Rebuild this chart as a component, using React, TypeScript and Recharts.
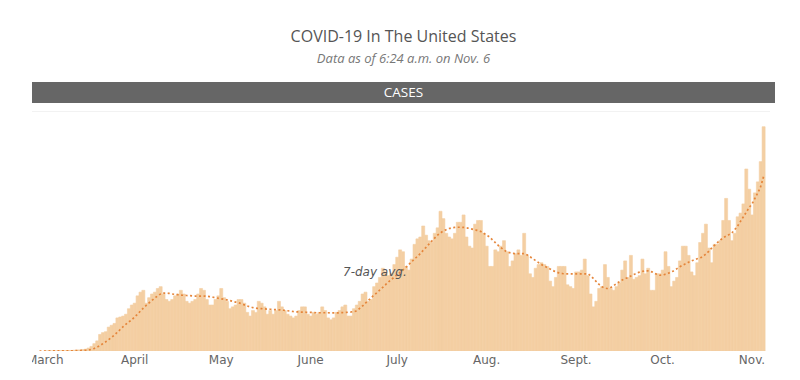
import React from 'react';
import { ComposedChart, Bar, Line, XAxis, YAxis } from 'recharts';

// Daily new cases (thousands), Feb 28 – Nov 5
const febCases = [0, 0];
const marCases = [0.02, 0.03, 0.04, 0.05, 0.07, 0.1, 0.12, 0.14, 0.2, 0.3, 0.4, 0.5, 0.6, 0.8, 1, 1.6, 2.5, 4, 5.5, 9, 10, 10.5, 13, 14, 15, 18, 18.5, 19, 20, 23, 25];
const aprCases = [26, 30, 32, 33, 26, 29, 31, 32, 34, 35, 31, 28, 27, 28, 30, 31, 33, 31, 27, 26, 27, 28, 31, 34, 33, 28, 25, 25, 28, 30];
const mayCases = [34, 29, 27, 23, 24, 25, 28, 28, 26, 21, 19, 22, 21, 27, 26, 24, 20, 22, 20, 22, 27, 24, 22, 20, 19, 18, 19, 22, 24, 24, 20];
const junCases = [19, 21, 20, 21, 24, 22, 18, 17, 18, 21, 22, 24, 25, 19, 19, 23, 25, 27, 31, 32, 27, 28, 35, 37, 40, 45, 43, 41, 42, 47];
const julCases = [51, 55, 54, 46, 44, 50, 58, 61, 62, 68, 63, 60, 59, 64, 67, 76, 72, 64, 62, 61, 64, 70, 70, 74, 62, 57, 56, 69, 71, 71, 64];
const augCases = [57, 46, 46, 55, 54, 57, 60, 54, 46, 49, 53, 55, 52, 64, 52, 42, 40, 45, 47, 48, 47, 46, 38, 35, 40, 46, 46, 46, 36, 35, 34];
const sepCases = [43, 43, 44, 50, 41, 31, 24, 27, 34, 35, 47, 40, 34, 33, 35, 37, 44, 49, 40, 52, 39, 40, 41, 50, 42, 45, 33, 33, 42, 42];
const octCases = [44, 54, 46, 35, 38, 40, 49, 57, 57, 52, 43, 41, 48, 59, 64, 69, 56, 48, 58, 58, 60, 71, 83, 71, 60, 64, 73, 75, 80, 99, 88];
const novCases = [74, 86, 92, 103, 122];

// 7-day average (thousands)
const febAvg = [0, 0];
const marAvg = [0.01, 0.01, 0.02, 0.02, 0.03, 0.04, 0.05, 0.07, 0.09, 0.12, 0.16, 0.2, 0.26, 0.33, 0.42, 0.6, 0.9, 1.4, 2.1, 3, 4, 5, 6.2, 7.4, 8.7, 10.2, 11.7, 13.2, 14.6, 15.8, 17];
const aprAvg = [18.5, 20, 21.7, 23.3, 24.8, 26.2, 27.5, 28.8, 30, 31, 31.5, 31.5, 31.3, 31, 30.8, 30.6, 30.4, 30.3, 30.2, 30.1, 30, 29.9, 29.9, 29.9, 29.9, 29.8, 29.6, 29.3, 29, 28.7];
const mayAvg = [28.4, 28.1, 27.8, 27.4, 27, 26.6, 26.2, 25.7, 25.1, 24.5, 24, 23.6, 23.3, 23.1, 23, 22.9, 22.8, 22.7, 22.6, 22.5, 22.4, 22.3, 22.1, 21.9, 21.7, 21.5, 21.3, 21.2, 21.1, 21.1, 21];
const junAvg = [21, 20.9, 20.8, 20.8, 20.8, 20.8, 20.8, 20.7, 20.7, 20.7, 20.8, 20.9, 21, 21.1, 21.2, 21.4, 22, 23.2, 24.5, 26, 27.5, 29, 30.4, 31.8, 33.2, 34.6, 36.1, 37.6, 38.9, 40.2];
const julAvg = [41.5, 42.8, 44, 45.5, 47, 48.5, 50, 51.5, 53, 54.7, 56.4, 58.1, 59.8, 61.4, 63, 64.2, 65.2, 66, 66.6, 67, 67.2, 67.3, 67.3, 67.2, 67, 66.7, 66.3, 65.9, 65.5, 65, 64];
const augAvg = [63, 62, 60.5, 59, 57.5, 56.2, 55, 54, 53.5, 53.2, 53, 53, 53, 53, 52.3, 51.3, 50.2, 49.2, 48.1, 47, 46.2, 45.4, 44.6, 43.8, 43.1, 42.5, 42.2, 42, 42, 42, 42];
const sepAvg = [42, 42, 42, 42, 42, 41, 39.5, 37.8, 36.2, 35, 34.3, 34, 34.5, 35.5, 36.6, 37.7, 38.6, 39.3, 40, 40.8, 41.6, 42.3, 42.9, 43.3, 43.6, 43.6, 43.2, 42.5, 41.7, 41.2];
const octAvg = [41.3, 41.8, 42.3, 43, 43.8, 44.8, 45.8, 46.7, 47.5, 48.3, 49, 49.6, 50.2, 50.7, 51.5, 52.8, 54.2, 56, 57.5, 59, 60.3, 61.5, 62.5, 63.3, 64.2, 66, 68, 70.5, 73, 75.5, 78];
const novAvg = [80, 83, 86, 89.5, 95];

const MONTH_KEYS = ['feb', 'mar', 'apr', 'may', 'jun', 'jul', 'aug', 'sep', 'oct', 'nov'];
const MONTH_START_DAY = [28, 1, 1, 1, 1, 1, 1, 1, 1, 1];
const CASES = [febCases, marCases, aprCases, mayCases, junCases, julCases, augCases, sepCases, octCases, novCases];
const AVGS = [febAvg, marAvg, aprAvg, mayAvg, junAvg, julAvg, augAvg, sepAvg, octAvg, novAvg];
const TICK_LABELS = ['March', 'April', 'May', 'June', 'July', 'Aug.', 'Sept.', 'Oct.', 'Nov.'];

const rows: { key: string; cases: number; avg: number }[] = [];
MONTH_KEYS.forEach((m, mi) => {
  CASES[mi].forEach((v, i) => {
    rows.push({ key: `${m}-${MONTH_START_DAY[mi] + i}`, cases: v, avg: AVGS[mi][i] });
  });
});
const tickKeys = MONTH_KEYS.slice(1).map((m) => `${m}-1`);
const tickLabelOf: Record<string, string> = {};
tickKeys.forEach((k, i) => (tickLabelOf[k] = TICK_LABELS[i]));

const BAR_COLOR = '#f4cfa3';
const LINE_COLOR = '#e5853a';

export default function App() {
  return (
    <div style={{ position: 'absolute', left: 0, top: 0, width: 800, height: 380, background: '#fff', overflow: 'hidden', fontFamily: '"Open Sans", sans-serif' }}>
      <div style={{ position: 'absolute', left: 32, width: 743, top: 26, textAlign: 'center', fontSize: 16, lineHeight: '21px', color: '#555' }}>
        COVID-19 In The United States
      </div>
      <div style={{ position: 'absolute', left: 32, width: 743, top: 50, textAlign: 'center', fontSize: 13, lineHeight: '17px', fontStyle: 'italic', color: '#777' }}>
        Data as of 6:24 a.m. on Nov. 6
      </div>
      <div style={{ position: 'absolute', left: 32, width: 743, top: 82, height: 21, background: '#666', color: '#fff', textAlign: 'center', fontSize: 13.5, lineHeight: '21px' }}>
        CASES
      </div>
      <div style={{ position: 'absolute', left: 32, width: 738, top: 111, height: 1, background: '#f2f2f2' }} />
      <div style={{ position: 'absolute', left: 32, top: 0, width: 768, height: 380, overflow: 'hidden' }}>
        <div style={{ position: 'absolute', left: -32, top: 0 }}>
          <ComposedChart
            width={800}
            height={380}
            data={rows}
            margin={{ top: 112, right: 35, bottom: 0, left: 38 }}
            barCategoryGap={0}
            barGap={0}
          >
            <XAxis
              dataKey="key"
              ticks={tickKeys}
              interval={0}
              tickFormatter={(k: string) => tickLabelOf[k] ?? ''}
              axisLine={false}
              tickLine={false}
              tickSize={2}
              tickMargin={2}
              height={29}
              tick={{ fontSize: 12, fill: '#666', fontFamily: '"DejaVu Sans", sans-serif' }}
            />
            <YAxis hide domain={[0, 130]} allowDataOverflow />
            <Bar dataKey="cases" fill={BAR_COLOR} stroke={BAR_COLOR} strokeWidth={0.6} isAnimationActive={false} />
            <Line dataKey="avg" type="monotone" stroke={LINE_COLOR} strokeWidth={1.7} strokeDasharray="2 2.5" dot={false} activeDot={false} isAnimationActive={false} />
          </ComposedChart>
        </div>
      </div>
      <div style={{ position: 'absolute', left: 343, top: 264, fontSize: 12, lineHeight: '16px', fontStyle: 'italic', color: '#555', fontFamily: '"DejaVu Sans", sans-serif' }}>
        7-day avg.
      </div>
    </div>
  );
}
